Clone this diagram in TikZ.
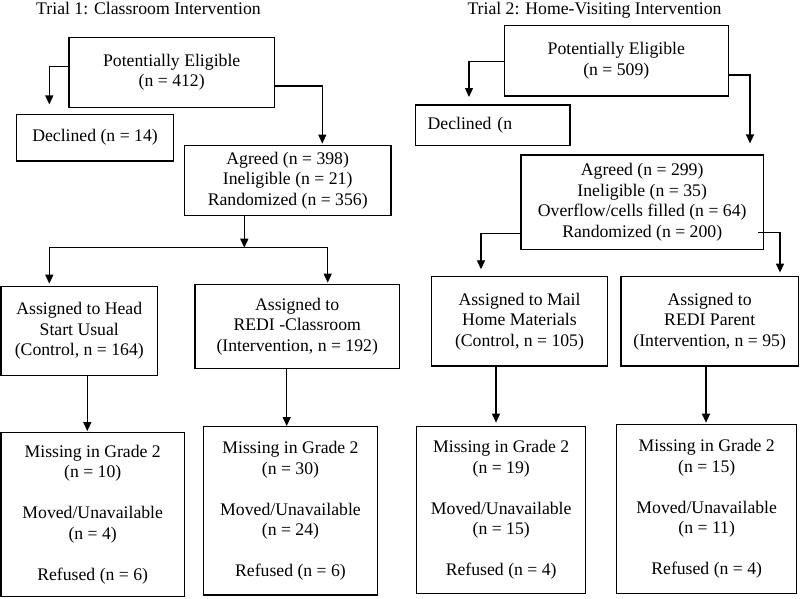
\documentclass[tikz,border=0pt]{standalone}
\usepackage{fontspec}
\setmainfont{Liberation Serif}
\usetikzlibrary{arrows.meta,calc}
\begin{document}
\begin{tikzpicture}[x=1pt,y=-1pt,
  every node/.style={font=\fontsize{17.7}{20.5}\selectfont},
  box/.style={draw,line width=1.3pt,align=center,inner sep=0pt},
  arr/.style={line width=1.3pt,-{Triangle[length=9pt,width=8pt]}},
  ttl/.style={anchor=base,inner sep=0pt}]
\useasboundingbox[fill=white] (0,0) rectangle (800,598);
% titles
\node[ttl] (t1) at (148.5,14) {Trial 1: Classroom Intervention};
\node[ttl] (t2) at (594.5,14) {Trial 2: Home-Visiting Intervention};
% Trial 1 boxes
\node[box,minimum width=205.3pt,minimum height=70pt] (PE1) at (171.7,72.3) {Potentially Eligible\\(n = 412)};
\node[box,minimum width=156.6pt,minimum height=46.7pt] (D1) at (95,137.7) {Declined (n = 14)};
\node[box,minimum width=206.7pt,minimum height=70pt] (A1) at (287.7,180.7) {Agreed (n = 398)\\Ineligible (n = 21)\\Randomized (n = 356)};
\node[box,minimum width=156.7pt,minimum height=89pt] (HS) at (79.3,331.2) {Assigned to Head\\Start Usual\\(Control, n = 164)};
\node[box,minimum width=204.3pt,minimum height=84pt] (RC) at (297.2,326.3) {Assigned to\\REDI -Classroom\\(Intervention, n = 192)};
\node[box,minimum width=183.3pt,minimum height=164.4pt] (M1) at (92.7,514.5) {Missing in Grade 2\\(n = 10)\\[20.5pt]Moved/Unavailable\\(n = 4)\\[20.5pt]Refused (n = 6)};
\node[box,minimum width=174.4pt,minimum height=168.3pt] (M2) at (290.5,510.8) {Missing in Grade 2\\(n = 30)\\[20.5pt]Moved/Unavailable\\(n = 24)\\[20.5pt]Refused (n = 6)};
% Trial 2 boxes
\node[box,minimum width=224pt,minimum height=70.3pt] (PE2) at (616.3,60.8) {Potentially Eligible\\(n = 509)};
\node[box,align=left,text width=130.3pt,inner xsep=12pt,minimum height=40.7pt] (D2) at (492.8,125.3) {Declined (n};
\node[box,minimum width=242.3pt,minimum height=94.3pt] (A2) at (642.2,202.2) {Agreed (n = 299)\\Ineligible (n = 35)\\Overflow/cells filled (n = 64)\\Randomized (n = 200)};
\node[box,minimum width=175.6pt,minimum height=89.3pt] (MH) at (519.5,321.3) {Assigned to Mail\\Home Materials\\(Control, n = 105)};
\node[box,minimum width=177.3pt,minimum height=89.3pt] (RP) at (709.7,321.3) {Assigned to\\REDI Parent\\(Intervention, n = 95)};
\node[box,minimum width=169pt,minimum height=166.6pt] (M3) at (501.2,510) {Missing in Grade 2\\(n = 19)\\[20.5pt]Moved/Unavailable\\(n = 15)\\[20.5pt]Refused (n = 4)};
\node[box,minimum width=180pt,minimum height=169pt] (M4) at (706.7,508.8) {Missing in Grade 2\\(n = 15)\\[20.5pt]Moved/Unavailable\\(n = 11)\\[20.5pt]Refused (n = 4)};
% Trial 1 connectors
\draw[arr,shorten >=9.3pt] (PE1.west |- 0,66.7) -| (D1.north -| 49.3,0);
\draw[arr,shorten >=1.5pt] (PE1.east |- 0,86) -| (A1.north -| 322.3,0);
\coordinate (s1) at (244.3,247.7);
\draw[arr] (A1.south -| s1) -- (s1);
\draw[arr,shorten >=2.4pt] (s1) -| (HS.north -| 49.3,0);
\draw[arr,shorten >=1pt] (s1) -| (RC.north -| 327.7,0);
\draw[arr,shorten >=0.6pt] (HS.south -| 87.3,0) -- (M1.north -| 87.3,0);
\draw[arr,shorten >=0pt] (RC.south -| 286.7,0) -- (M2.north -| 286.7,0);
% Trial 2 connectors
\draw[arr,shorten >=7.3pt] (PE2.west |- 0,61.7) -| (D2.north -| 469,0);
\draw[arr,shorten >=11pt] (PE2.east |- 0,75) -| (A2.north -| 750,0);
\draw[arr,shorten >=6.7pt] (A2.west |- 0,233.3) -| (MH.north -| 481,0);
\draw[arr,shorten >=3.4pt] ($(A2.east |- 0,232.7)+(-5.6,0)$) -| (RP.north -| 780,0);
\draw[arr,shorten >=3.4pt] (MH.south -| 496,0) -- (M3.north -| 496,0);
\draw[arr,shorten >=1pt] (RP.south -| 706,0) -- (M4.north -| 706,0);
\end{tikzpicture}
\end{document}
